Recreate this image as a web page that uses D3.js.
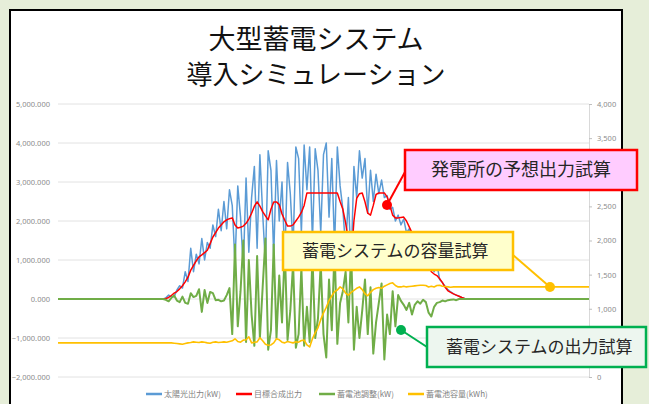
<!DOCTYPE html>
<html>
<head>
<meta charset="utf-8">
<script src="https://cdn.jsdelivr.net/npm/d3@7"></script>
<style>
  body { margin: 0; background: #e6eed9; overflow: hidden; }
  svg { display: block; }
</style>
</head>
<body>
<div id="chart"></div>
<script>
"use strict";

// 7.5 minute slots over the day, arrays start at slot 36
var slotCount = 192;
var firstSlot = 36;

var seriesNames = ["太陽光出力(kW)", "目標合成出力", "蓄電池調整(kW)", "蓄電池容量(kWh)"];
var seriesColors = ["#5b9bd5", "#ff0000", "#70ad47", "#ffc000"];

var leftTicks = [-2000, -1000, 0, 1000, 2000, 3000, 4000, 5000];
var rightTicks = [0, 500, 1000, 1500, 2000, 2500, 3000, 3500, 4000];
// right labels hidden behind the callout boxes
var coveredTicks = [500, 3000];

var solar = [
  0, 0, 0, 30, 100, 60, 60, 230, 340, 280,
  700, 450, 1300, 700, 1150, 900, 1550, 1000, 1450, 1300,
  1900, 1600, 2300, 1750, 2500, 1800, 2800, 2400, 900, 2900,
  2100, 800, 3100, 1200, 2600, 3400, 1300, 3700, 2200, 900,
  3800, 3300, 1100, 3550, 2000, 3000, 1000, 3500, 2700, 1300,
  3900, 3600, 1700, 3950, 2800, 3900, 1500, 3850, 3300, 1700,
  3700, 4000, 2100, 3600, 1300, 3900, 2900, 2300, 1300, 2600,
  900, 3400, 2600, 3800, 3100, 3600, 2200, 3300, 2500, 3200,
  2700, 3050, 2600, 2650, 2300, 2350, 2000, 2150, 1900, 2050,
  1700, 1800, 1400, 1500, 1200, 1300, 1000, 1100, 800, 850,
  700, 900, 500, 420, 320, 240, 180, 130, 100, 70,
  40, 15, 0
];

var target = [
  0, 0, 0, 10, 40, 90, 150, 190, 260, 340,
  440, 560, 740, 860, 980, 1080, 1130, 1190, 1250, 1420,
  1590, 1700, 1820, 1900, 1980, 2030, 2060, 2080, 1900, 1820,
  1840, 1870, 1940, 2050, 2200, 2380, 2490, 2380, 2240, 2130,
  2030, 2300, 2490, 2490, 2420, 2180, 2020, 1870, 1870, 1900,
  2000, 2100, 2220, 2400, 2720, 2720, 2720, 2720, 2720, 2720,
  2720, 2720, 2720, 2720, 2720, 2720, 2500, 2300, 1950, 1500,
  1000, 2000, 2580, 2700, 2720, 2490, 2200, 2150, 2400, 2680,
  2720, 2720, 2720, 2620, 2400, 2150, 2080, 2080, 2090, 2100,
  2000, 1850, 1700, 1570, 1450, 1350, 1150, 950, 820, 700,
  640, 600, 520, 420, 300, 210, 170, 130, 100, 70,
  40, 15, 0
];

var battery = [
  0, 0, 0, -20, -60, 30, 90, -40, -80, 60,
  -100, -120, 150, 50, 80, 250, -330, 230, -100, 180,
  150, -30, -20, -60, -40, 100, 280, -900, 1400, -700,
  200, 1500, -1100, 1000, -400, -1200, 1100, -1000, 300, 1550,
  -1300, -800, 1400, -1000, 600, -600, 1300, -1050, -300, 900,
  -1250, -900, 800, -1200, -200, -1100, 1100, -1000, -500, 900,
  -900, -1500, 500, -800, 1300, -1150, -100, 200, 700, -600,
  1200, -1300, -200, -1000, -300, 500, -900, 300, -1400, -600,
  -100, 400, -1550, -400, -900, 200, -700, 100, -50, -150,
  -280, -100, -400, -150, -60, -120, -20, -80, -350, -450,
  -200, -100, -80, -40, -60, -30, -20, -10, -30, 0,
  0, 0, 0
];

var capacity = [
  500, 500, 500, 500, 500, 500, 495, 490, 485, 480,
  490, 500, 505, 515, 510, 505, 515, 510, 500, 495,
  510, 515, 505, 510, 515, 510, 520, 530, 560, 520,
  510, 540, 545, 590, 500, 510, 515, 575, 530, 480,
  465, 470, 500, 560, 545, 510, 500, 520, 510, 500,
  515, 510, 535, 540, 470, 440, 560, 650, 720, 840,
  940, 1020, 1120, 1190, 1250, 1275, 1320, 1290, 1230, 1200,
  1240, 1270, 1300, 1320, 1280, 1220, 1190, 1240, 1280, 1300,
  1310, 1300, 1330, 1350, 1370, 1380, 1340, 1320, 1320, 1330,
  1320, 1325, 1330, 1335, 1340, 1345, 1345, 1340, 1320, 1330,
  1320, 1340, 1345, 1330, 1325, 1320, 1315, 1320, 1320, 1320,
  1320, 1320, 1320
];

var callouts = [
  { text: "発電所の予想出力試算", x: 405, y: 150, w: 232, h: 40, fill: "#ffccff", stroke: "#ff0000",
    size: 18, anchor: "middle", from: [405, 172], dot: [387, 205] },
  { text: "蓄電システムの容量試算", x: 283, y: 232, w: 230, h: 38, fill: "#ffffcc", stroke: "#ffc000",
    size: 17, anchor: "start", from: [513, 255], dot: [550, 287] },
  { text: "蓄電システムの出力試算", x: 427, y: 327, w: 219, h: 40, fill: "#edf6ef", stroke: "#00b050",
    size: 17, anchor: "start", from: [427, 347], dot: [401, 330] }
];

var W = 649, H = 404;
var svg = d3.select("#chart").append("svg")
    .attr("width", W)
    .attr("height", H);

// white panel
svg.append("rect")
    .attr("x", 10).attr("y", 10)
    .attr("width", 612).attr("height", H + 10)
    .attr("fill", "#fff")
    .attr("stroke", "#000")
    .attr("stroke-width", 2);

svg.append("text")
    .attr("x", 316).attr("y", 49)
    .attr("text-anchor", "middle")
    .attr("font-family", "'Noto Sans CJK JP', sans-serif")
    .attr("font-size", 27)
    .attr("fill", "#111")
    .text("大型蓄電システム");
svg.append("text")
    .attr("x", 316).attr("y", 84)
    .attr("text-anchor", "middle")
    .attr("font-family", "'Noto Sans CJK JP', sans-serif")
    .attr("font-size", 26)
    .attr("fill", "#111")
    .text("導入シミュレーション");

var x = d3.scaleLinear().domain([0, slotCount]).range([58, 589]);
var yL = d3.scaleLinear().domain([-2000, 5000]).range([377, 104]);
var yR = d3.scaleLinear().domain([0, 4000]).range([377, 104]);

// gridlines
svg.append("g").selectAll("line")
    .data(leftTicks)
    .enter().append("line")
    .attr("x1", 58).attr("x2", 589)
    .attr("y1", function (d) { return yL(d); })
    .attr("y2", function (d) { return yL(d); })
    .attr("stroke", "#e2e2e2")
    .attr("stroke-width", 1);

var axL = svg.append("g")
    .attr("transform", "translate(58,0)")
    .call(d3.axisLeft(yL).tickValues(leftTicks).tickFormat(d3.format(",.3f")).tickSize(0).tickPadding(8));
axL.select(".domain").remove();

var fmtR = d3.format(",");
var axR = svg.append("g")
    .attr("transform", "translate(589,0)")
    .call(d3.axisRight(yR).tickValues(rightTicks)
        .tickFormat(function (d) { return coveredTicks.indexOf(d) >= 0 ? "" : fmtR(d); })
        .tickSize(3).tickPadding(5));
axR.select(".domain").attr("stroke", "#d9d9d9");
axR.selectAll(".tick line").attr("stroke", "#bfbfbf");

svg.selectAll(".tick text")
    .attr("font-family", "'Noto Sans', sans-serif")
    .attr("font-size", 7.5)
    .attr("fill", "#8c8c8c");

function points(arr) {
    var pts = [[0, arr[0]]];
    arr.forEach(function (v, i) { pts.push([firstSlot + i, v]); });
    pts.push([slotCount, arr[arr.length - 1]]);
    return pts;
}

var series = [
    { values: solar, y: yL, width: 1.5 },
    { values: target, y: yL, width: 1.5 },
    { values: battery, y: yL, width: 2 },
    { values: capacity, y: yR, width: 1.6 }
];

series.forEach(function (s, k) {
    var line = d3.line()
        .x(function (d) { return x(d[0]); })
        .y(function (d) { return s.y(d[1]); });
    svg.append("path")
        .datum(points(s.values))
        .attr("d", line)
        .attr("fill", "none")
        .attr("stroke", seriesColors[k])
        .attr("stroke-width", s.width)
        .attr("stroke-linejoin", "round");
});

// legend
var legendX = [146, 236, 319, 408];
var lg = svg.append("g").selectAll("g")
    .data(seriesNames)
    .enter().append("g")
    .attr("transform", function (d, i) { return "translate(" + legendX[i] + ",394)"; });
lg.append("line")
    .attr("x1", 0).attr("x2", 16)
    .attr("stroke", function (d, i) { return seriesColors[i]; })
    .attr("stroke-width", 2.5);
lg.append("text")
    .attr("x", 18).attr("dy", "0.35em")
    .attr("font-family", "'Noto Sans CJK JP', sans-serif")
    .attr("font-size", 8)
    .attr("fill", "#7f7f7f")
    .text(function (d) { return d; });

// callouts
var co = svg.append("g").selectAll("g")
    .data(callouts)
    .enter().append("g");
co.append("line")
    .attr("x1", function (d) { return d.from[0]; })
    .attr("y1", function (d) { return d.from[1]; })
    .attr("x2", function (d) { return d.dot[0]; })
    .attr("y2", function (d) { return d.dot[1]; })
    .attr("stroke", function (d) { return d.stroke; })
    .attr("stroke-width", 2);
co.append("circle")
    .attr("cx", function (d) { return d.dot[0]; })
    .attr("cy", function (d) { return d.dot[1]; })
    .attr("r", 5)
    .attr("fill", function (d) { return d.stroke; });
co.append("rect")
    .attr("x", function (d) { return d.x; })
    .attr("y", function (d) { return d.y; })
    .attr("width", function (d) { return d.w; })
    .attr("height", function (d) { return d.h; })
    .attr("fill", function (d) { return d.fill; })
    .attr("stroke", function (d) { return d.stroke; })
    .attr("stroke-width", 2.5);
co.append("text")
    .attr("x", function (d) { return d.anchor === "middle" ? d.x + d.w / 2 : d.x + 19; })
    .attr("y", function (d) { return d.y + d.h / 2; })
    .attr("dy", "0.36em")
    .attr("text-anchor", function (d) { return d.anchor; })
    .attr("font-family", "'Noto Sans CJK JP', sans-serif")
    .attr("font-size", function (d) { return d.size; })
    .attr("fill", "#262626")
    .text(function (d) { return d.text; });
</script>
</body>
</html>
